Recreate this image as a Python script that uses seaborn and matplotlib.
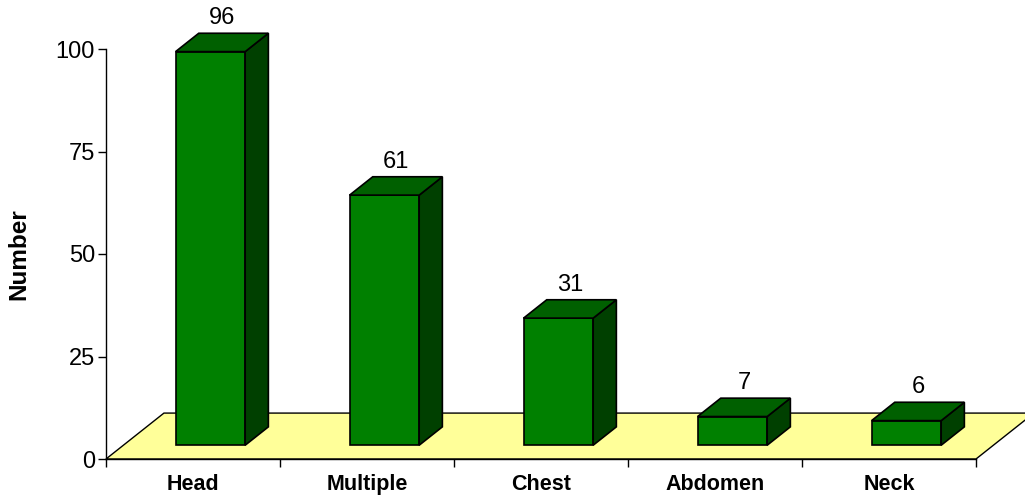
import numpy as np
import seaborn as sns
import matplotlib.pyplot as plt
from matplotlib.patches import Polygon

# data
categories = ['Head', 'Multiple', 'Chest', 'Abdomen', 'Neck']
values = [96, 61, 31, 7, 6]
yticks = [0, 25, 50, 75, 100]

sns.set_style('white')
plt.rcParams['font.family'] = ['Liberation Sans', 'DejaVu Sans']
plt.rcParams['text.color'] = 'black'
plt.rcParams['axes.labelcolor'] = 'black'
plt.rcParams['xtick.color'] = 'black'
plt.rcParams['ytick.color'] = 'black'

fig = plt.figure(figsize=(10.25, 4.96), dpi=100)
ax = fig.add_axes([106 / 1025, 37 / 496, 870 / 1025, 410 / 496])

# bars (front faces) via seaborn
sns.barplot(x=categories, y=values, color='#008000', saturation=1, width=0.4,
            edgecolor='black', linewidth=1.2, ax=ax, zorder=3)

# depth geometry (data units)
floor_dx, floor_dy = 0.333, 11.2
front_dx, front_dy = 0.30 * floor_dx, 0.30 * floor_dy
bar_dx, bar_dy = 0.40 * floor_dx, 0.40 * floor_dy

# floor
n = len(categories)
floor = Polygon([(-0.5, 0), (n - 0.5, 0), (n - 0.5 + floor_dx, floor_dy),
                 (-0.5 + floor_dx, floor_dy)], closed=True,
                facecolor='#FFFF99', edgecolor='black', linewidth=1, zorder=1, clip_on=False)
ax.add_patch(floor)

for p, v in zip(ax.patches[:n], values):
    p.set_x(p.get_x() + front_dx)
    p.set_y(front_dy)
    p.set_clip_on(False)
    x0 = p.get_x()
    x1 = x0 + p.get_width()
    y0 = front_dy
    y1 = front_dy + p.get_height()
    side = Polygon([(x1, y0), (x1 + bar_dx, y0 + bar_dy), (x1 + bar_dx, y1 + bar_dy), (x1, y1)],
                   closed=True, facecolor='#004000', edgecolor='black', linewidth=1.2,
                   zorder=3, clip_on=False)
    top = Polygon([(x0, y1), (x1, y1), (x1 + bar_dx, y1 + bar_dy), (x0 + bar_dx, y1 + bar_dy)],
                  closed=True, facecolor='#006000', edgecolor='black', linewidth=1.2,
                  zorder=3, clip_on=False)
    ax.add_patch(side)
    ax.add_patch(top)
    ax.annotate(f'{v}', ((x0 + x1) / 2 + bar_dx / 2, y1 + bar_dy), xytext=(0, 3),
                textcoords='offset points', ha='center', va='bottom', fontsize=17,
                annotation_clip=False)

ax.set_xlim(-0.5, n - 0.5)
ax.set_ylim(0, 100)
ax.set_yticks(yticks)
ax.tick_params(axis='y', labelsize=17, length=6, width=1, direction='out', left=True, pad=2)
ax.set_xticks(np.arange(n))
ax.set_xticklabels(categories, fontweight='bold', fontsize=15.5)
ax.set_xticks(np.arange(n + 1) - 0.5, minor=True)
ax.tick_params(axis='x', which='major', length=0, pad=11)
ax.tick_params(axis='x', which='minor', length=6, width=1, direction='out', bottom=True)
ax.set_xlabel('')
ax.set_ylabel('Number', fontweight='bold', fontsize=17.5, labelpad=18)

for s in ['top', 'right']:
    ax.spines[s].set_visible(False)
for s in ['left', 'bottom']:
    ax.spines[s].set_color('black')
    ax.spines[s].set_linewidth(1)
    ax.spines[s].set_zorder(2)

fig.savefig('out.png', dpi=100)
